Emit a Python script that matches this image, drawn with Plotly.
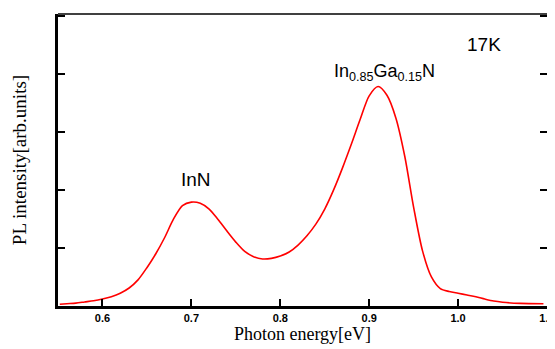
import plotly.graph_objects as go

energy = [0.552, 0.56, 0.57, 0.58, 0.59, 0.60, 0.61, 0.62, 0.63, 0.64, 0.65,
          0.66, 0.67, 0.68, 0.69, 0.70, 0.71, 0.72, 0.73, 0.74, 0.75, 0.76,
          0.77, 0.78, 0.79, 0.80, 0.81, 0.82, 0.83, 0.84, 0.85, 0.86, 0.87,
          0.88, 0.89, 0.90, 0.91, 0.92, 0.93, 0.94, 0.95, 0.96, 0.97, 0.98,
          0.99, 1.00, 1.01, 1.02, 1.03, 1.04, 1.05, 1.07, 1.096]
intensity = [0.03, 0.04, 0.05, 0.07, 0.09, 0.12, 0.16, 0.22, 0.31, 0.45, 0.66,
             0.90, 1.18, 1.50, 1.73, 1.79, 1.77, 1.67, 1.49, 1.29, 1.10, 0.94,
             0.85, 0.81, 0.82, 0.86, 0.93, 1.05, 1.21, 1.41, 1.67, 2.00, 2.38,
             2.79, 3.22, 3.62, 3.78, 3.63, 3.24, 2.58, 1.70, 0.95, 0.50, 0.30,
             0.25, 0.22, 0.19, 0.16, 0.12, 0.085, 0.065, 0.045, 0.04]

x_ticks = [0.6, 0.7, 0.8, 0.9, 1.0, 1.1]
x_tick_labels = ["0.6", "0.7", "0.8", "0.9", "1.0", "1.1"]
y_ticks = [1, 2, 3, 4, 5]

fig = go.Figure()
fig.add_trace(go.Scatter(x=energy, y=intensity, mode="lines",
                         line=dict(color="#ff0000", width=1.6, shape="spline", smoothing=0.8),
                         showlegend=False, hoverinfo="skip"))

# page body has an 8px margin, so figure is drawn 8px in from top-left
fig.update_layout(
    width=547, height=341,
    margin=dict(l=50, r=8, t=6, b=43, autoexpand=False),
    paper_bgcolor="white", plot_bgcolor="white",
    xaxis=dict(range=[0.55, 1.1], tickvals=x_ticks, ticktext=x_tick_labels,
               ticks="inside", ticklen=7, tickwidth=2, tickcolor="black",
               showline=True, linewidth=3, linecolor="black", mirror=False,
               showgrid=False, zeroline=False, automargin=False,
               tickfont=dict(family="Arial, Liberation Sans", size=11, color="black", weight="bold"),
               title=dict(text="Photon energy[eV]", standoff=2,
                          font=dict(family="Liberation Serif, Times New Roman", size=18, color="black"))),
    yaxis=dict(range=[0, 5.03], tickvals=y_ticks, showticklabels=False,
               ticks="inside", ticklen=7, tickwidth=2, tickcolor="black",
               showline=True, linewidth=3, linecolor="black", mirror="ticks",
               showgrid=False, zeroline=False, automargin=False,
               title=dict(text="PL intensity[arb.units]", standoff=24,
                          font=dict(family="Liberation Serif, Times New Roman", size=19, color="black"))),
    shapes=[dict(type="line", xref="paper", yref="paper", x0=0, x1=1, y0=1, y1=1,
                 line=dict(color="black", width=1.5))],
    annotations=[
        dict(x=0.705, y=2.18, xref="x", yref="y", text="InN", showarrow=False,
             font=dict(family="Arial, Liberation Sans", size=19, color="black")),
        dict(x=0.917, y=4.02, xref="x", yref="y",
             text="In<sub>0.85</sub>Ga<sub>0.15</sub>N", showarrow=False,
             font=dict(family="Arial, Liberation Sans", size=18, color="black")),
        dict(x=1.029, y=4.51, xref="x", yref="y", text="17K", showarrow=False,
             font=dict(family="Arial, Liberation Sans", size=19, color="black")),
    ],
)

fig.write_html("out.html")
